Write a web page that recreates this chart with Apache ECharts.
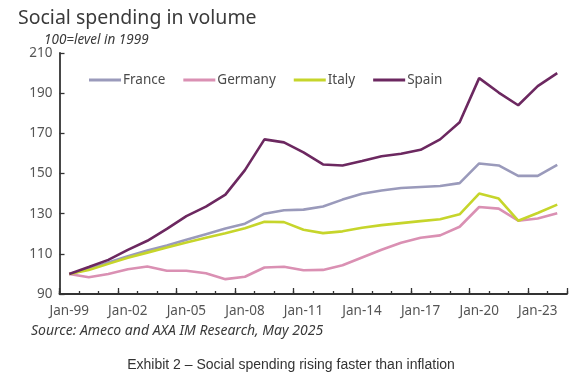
<!DOCTYPE html>
<html><head><meta charset="utf-8">
<script src="https://cdn.jsdelivr.net/npm/echarts@6/dist/echarts.min.js"></script>
<style>html,body{margin:0;padding:0;background:#fff}#c{width:582px;height:391px}</style>
</head><body><div id="c"></div>
<script>
var years = ['Jan-99','Jan-00','Jan-01','Jan-02','Jan-03','Jan-04','Jan-05','Jan-06','Jan-07','Jan-08','Jan-09','Jan-10','Jan-11','Jan-12','Jan-13','Jan-14','Jan-15','Jan-16','Jan-17','Jan-18','Jan-19','Jan-20','Jan-21','Jan-22','Jan-23','Jan-24'];
var france  = [100,102.5,105.7,108.8,111.6,114.2,117,119.8,122.6,125,130,131.7,132,133.6,137,139.9,141.5,142.8,143.3,143.8,145.2,155,154,148.8,148.8,154.3];
var germany = [100,98.3,100,102.3,103.7,101.6,101.6,100.3,97.4,98.6,103.2,103.6,101.8,102,104.3,108.2,112,115.5,118,119.2,123.5,133.3,132.5,126.5,127.6,130.2];
var italy   = [100,102,105,108,110.6,113.2,115.6,118,120.2,122.7,126,125.8,122,120.3,121.2,123,124.3,125.3,126.3,127.2,129.7,140,137.5,126.5,130.3,134.5];
var spain   = [100,103.4,107,112,116.5,122.4,128.8,133.5,139.5,151.7,167,165.5,160.5,154.5,154,156.2,158.6,159.8,161.8,167,175.5,197.5,190.3,184,193.5,200];
var yTicks = {min: 90, max: 210, step: 20};

var chart = echarts.init(document.getElementById('c'));
function line(name, data, color){
  return {name:name, type:'line', data:data, symbol:'none', smooth:false,
    lineStyle:{color:color, width:2.6}, itemStyle:{color:color}, xAxisIndex:0, yAxisIndex:0};
}
chart.setOption({
  animation:false,
  title:[
    {text:'Social spending in volume', left:13, top:3, textStyle:{fontFamily:'Noto Sans', fontSize:19.5, fontWeight:'normal', color:'#3a3a3a'}},
    {text:'100=level in 1999', left:39, top:28, textStyle:{fontFamily:'Noto Sans', fontSize:13.5, fontStyle:'italic', fontWeight:'normal', color:'#3a3a3a'}},
    {text:'Source: Ameco and AXA IM Research, May 2025', left:26, top:319, textStyle:{fontFamily:'Noto Sans', fontSize:14, fontStyle:'italic', fontWeight:'normal', color:'#3a3a3a'}},
    {text:'Exhibit 2 \u2013 Social spending rising faster than inflation', left:'center', top:353, textStyle:{fontFamily:'Liberation Sans', fontSize:14, fontWeight:'normal', color:'#333'}}
  ],
  legend:{left:84, top:68, icon:'rect', itemWidth:32, itemHeight:3, itemGap:18,
    textStyle:{fontFamily:'Noto Sans', fontSize:13.5, color:'#4a4a4a', padding:[0,0,0,-3]},
    data:['France','Germany','Italy','Spain']},
  grid:{left:59.5, right:15, top:53, bottom:97},
  xAxis:[
    {type:'category', data:years, boundaryGap:true,
     axisLine:{lineStyle:{color:'#333', width:1.8}},
     axisTick:{show:true, inside:true, length:3, interval:0, lineStyle:{color:'#333', width:1.3}},
     axisLabel:{interval:2, margin:10, fontFamily:'Noto Sans', fontSize:13.5, color:'#555'}},
    {type:'category', data:years, boundaryGap:true, position:'bottom',
     axisLine:{show:false},
     axisTick:{show:true, inside:true, length:6, interval:2, lineStyle:{color:'#333', width:1.3}},
     axisLabel:{show:false}}
  ],
  yAxis:{type:'value', min:yTicks.min, max:yTicks.max, interval:yTicks.step,
    axisLine:{show:true, lineStyle:{color:'#333', width:1.8}},
    axisTick:{show:true, inside:true, length:5, lineStyle:{color:'#333', width:1.3}},
    splitLine:{show:false},
    axisLabel:{margin:7, fontFamily:'Noto Sans', fontSize:13.5, color:'#555'}},
  series:[
    line('France', france, '#9a9abb'),
    line('Germany', germany, '#da90b3'),
    line('Italy', italy, '#c6d52b'),
    line('Spain', spain, '#6c2860')
  ]
});
</script></body></html>
